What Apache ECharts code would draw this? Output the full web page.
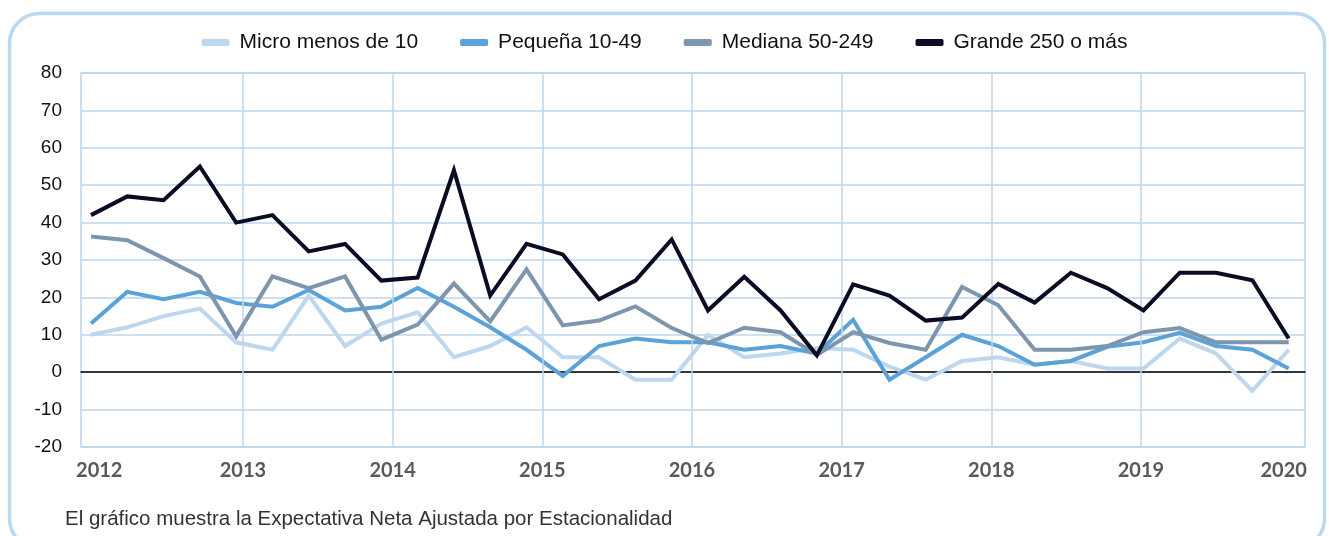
<!DOCTYPE html>
<html>
<head>
<meta charset="utf-8">
<script src="https://cdn.jsdelivr.net/npm/echarts@6/dist/echarts.min.js"></script>
<style>
html,body{margin:0;padding:0;background:#fff;}
#chart{width:1329px;height:536px;}
</style>
</head>
<body>
<div id="chart"></div>
<script>
// Quarterly data, 2012 Q1 .. 2020 Q2 (x = quarter index)
const quarters = Array.from({length: 34}, (_, i) => i);
const yearTicks = [2012, 2013, 2014, 2015, 2016, 2017, 2018, 2019, 2020];
const yearGridLines = [2013, 2014, 2015, 2016, 2017, 2018, 2019];
const seriesNames = ['Micro menos de 10', 'Pequeña 10-49', 'Mediana 50-249', 'Grande 250 o más'];

const micro = [10, 12, 15, 17, 8, 6, 20.5, 7, 13, 16, 4, 7, 12, 4, 4, -2, -2, 10, 4, 5, 6.5, 6, 1.5, -2, 3, 4, 2, 3, 1, 1, 9, 5, -5, 6];
const pequena = [13, 21.5, 19.5, 21.5, 18.5, 17.5, 22, 16.5, 17.5, 22.5, 17.5, 12, 6, -1, 7, 9, 8, 8, 6, 7, 5, 14, -2, 4, 10, 7, 2, 3, 6.8, 8, 10.5, 7, 6, 1];
const mediana = [36.3, 35.3, 30.5, 25.6, 9.6, 25.6, 22.5, 25.6, 8.7, 12.7, 23.7, 13.6, 27.5, 12.5, 13.8, 17.6, 11.8, 7.8, 11.9, 10.7, 4.6, 10.7, 7.8, 6, 22.8, 17.9, 6, 6, 7, 10.7, 11.8, 8, 8, 8];
const grande = [42, 47, 46, 55, 40, 42, 32.3, 34.3, 24.5, 25.3, 54, 20.5, 34.3, 31.5, 19.5, 24.5, 35.5, 16.5, 25.5, 16.5, 4.5, 23.5, 20.5, 13.8, 14.6, 23.6, 18.6, 26.6, 22.5, 16.5, 26.6, 26.6, 24.6, 9];

const colors = ['#bdd7ee', '#5aa2d8', '#7d96ad', '#0b0c24'];
const gridColor = '#bcd5ee';
const dataSets = [micro, pequena, mediana, grande];

const chart = echarts.init(document.getElementById('chart'), null, {renderer: 'canvas'});

const series = [];
// helper series on the year axis carrying the vertical gridlines
series.push({
  type: 'line', xAxisIndex: 1, yAxisIndex: 0,
  data: yearGridLines.map(y => [y, null]), silent: true, symbol: 'none', z: 1,
  markLine: {
    silent: true, symbol: 'none', label: {show: false},
    lineStyle: {color: gridColor, width: 1.5, type: 'solid'},
    emphasis: {disabled: true},
    data: yearGridLines.map(y => ({xAxis: y}))
  }
});
dataSets.forEach((arr, k) => series.push({
  name: seriesNames[k],
  type: 'line',
  xAxisIndex: 0,
  yAxisIndex: 0,
  data: arr.map((v, i) => [quarters[i], v]),
  symbol: 'none',
  lineStyle: {color: colors[k], width: 4, join: 'miter'},
  itemStyle: {color: colors[k]},
  z: 3 + k
}));

chart.setOption({
  animation: false,
  backgroundColor: '#fff',
  color: colors,
  legend: {
    data: seriesNames.map((n, k) => ({name: n, icon: 'roundRect', itemStyle: {color: colors[k]}})),
    top: 27,
    left: 'center',
    itemWidth: 28,
    itemHeight: 7,
    itemGap: 42,
    textStyle: {fontFamily: 'Liberation Sans, Arial, sans-serif', fontSize: 21, color: '#111', padding: [0, 0, 0, 5]}
  },
  grid: {
    left: 81, right: 24, top: 73, bottom: 89,
    show: true, borderColor: gridColor, borderWidth: 1.5, backgroundColor: 'transparent'
  },
  xAxis: [
    {
      type: 'value', min: -0.275, max: 33.45,
      axisLine: {show: true, onZero: true, lineStyle: {color: '#000', width: 1.5}},
      axisTick: {show: false}, axisLabel: {show: false}, splitLine: {show: false}
    },
    {
      type: 'value', min: 2011.918, max: 2020.096, minInterval: 1, maxInterval: 1,
      position: 'bottom',
      axisLine: {show: false}, axisTick: {show: false},
      splitLine: {show: false},
      axisLabel: {
        show: true, margin: 14,
        fontFamily: 'Lato, Open Sans, sans-serif', fontWeight: 'bold', fontSize: 20, color: '#595959',
        showMinLabel: true, showMaxLabel: true,
        formatter: v => {
          const r = Math.round(v);
          if (Math.abs(v - r) > 1e-6 || !yearTicks.includes(r)) return '';
          if (r === yearTicks[0]) return '{l|' + r + '}';
          if (r === yearTicks[yearTicks.length - 1]) return '{r|' + r + '}';
          return String(r);
        },
        rich: {
          l: {fontFamily: 'Lato, Open Sans, sans-serif', fontWeight: 'bold', fontSize: 20, color: '#595959', padding: [0, 0, 0, 12]},
          r: {fontFamily: 'Lato, Open Sans, sans-serif', fontWeight: 'bold', fontSize: 20, color: '#595959', padding: [0, 14, 0, 0]}
        }
      }
    }
  ],
  yAxis: {
    type: 'value', min: -20, max: 80, interval: 10,
    axisLine: {show: false}, axisTick: {show: false},
    splitLine: {show: true, lineStyle: {color: gridColor, width: 1.5}},
    axisLabel: {margin: 19, fontFamily: 'Liberation Sans, Arial, sans-serif', fontSize: 19, color: '#111'}
  },
  graphic: [
    {
      type: 'rect', silent: true, z: -10,
      shape: {x: 9.5, y: 13.5, width: 1315, height: 535, r: 30},
      style: {fill: 'none', stroke: '#bdd7ee', lineWidth: 3.5}
    },
    {
      type: 'text', left: 65, top: 509,
      style: {text: 'El gráfico muestra la Expectativa Neta Ajustada por Estacionalidad',
        font: '20.5px "Liberation Sans", Arial, sans-serif', fill: '#333'}
    }
  ],
  series: series
});
</script>
</body>
</html>
